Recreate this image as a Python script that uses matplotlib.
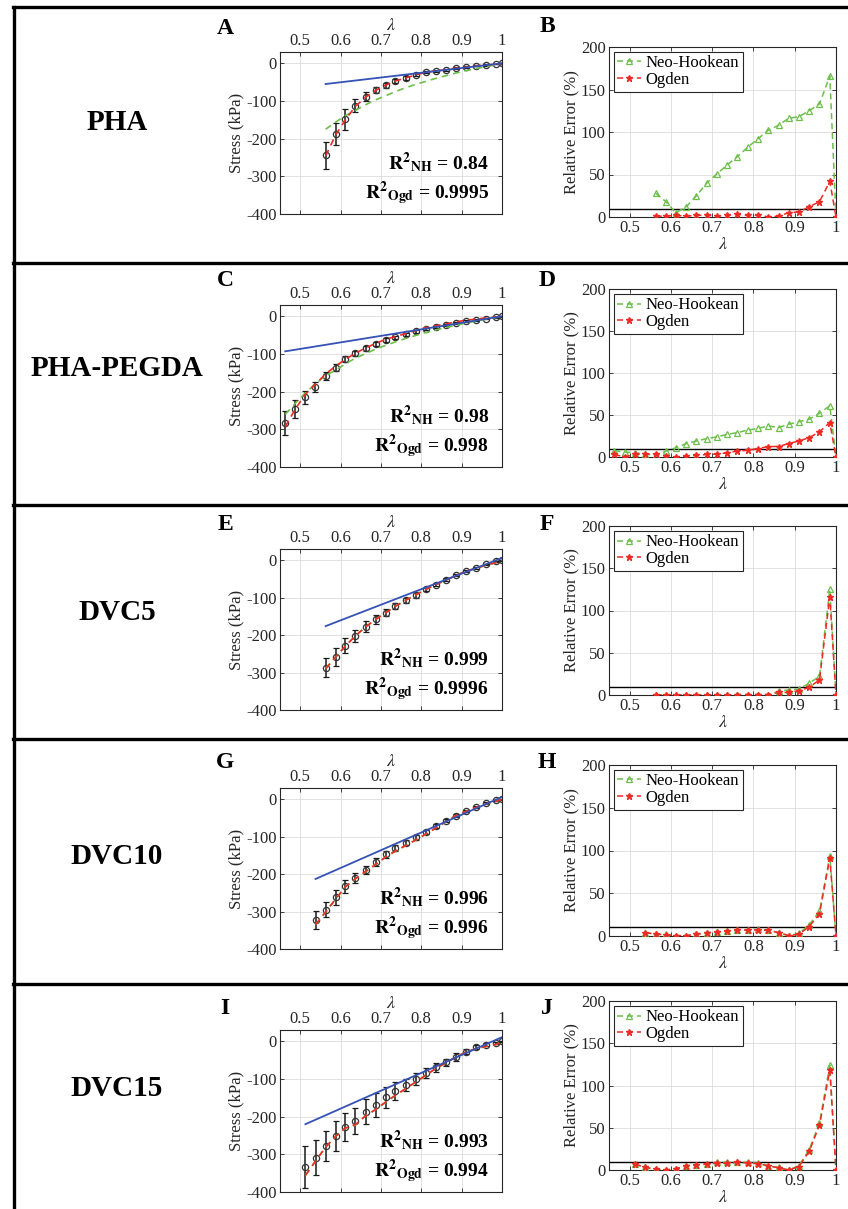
import matplotlib
matplotlib.use("Agg")
import matplotlib.pyplot as plt
from matplotlib.lines import Line2D

plt.rcParams['font.family'] = ['Liberation Serif', 'DejaVu Serif']
plt.rcParams['mathtext.fontset'] = 'stix'
plt.rcParams['axes.unicode_minus'] = False

W, H = 848, 1209

# ---- data ----
row_names = ['PHA', 'PHA-PEGDA', 'DVC5', 'DVC10', 'DVC15']
left_letters = ['A', 'C', 'E', 'G', 'I']
right_letters = ['B', 'D', 'F', 'H', 'J']
r2_nh = ['0.84', '0.98', '0.999', '0.996', '0.993']
r2_ogd = ['0.9995', '0.998', '0.9996', '0.996', '0.994']

lam_pha = [0.563, 0.588, 0.612, 0.637, 0.662, 0.687, 0.712, 0.736, 0.761, 0.786,
           0.811, 0.836, 0.861, 0.885, 0.910, 0.935, 0.960, 0.985, 1.0]
lam_pegda = [0.463, 0.488, 0.512, 0.537, 0.563, 0.588, 0.612, 0.637, 0.662, 0.687,
             0.712, 0.736, 0.761, 0.786, 0.811, 0.836, 0.861, 0.885, 0.910, 0.935,
             0.960, 0.985, 1.0]
lam_dvc5 = [0.563, 0.588, 0.612, 0.637, 0.662, 0.687, 0.712, 0.736, 0.761, 0.786,
            0.811, 0.836, 0.861, 0.885, 0.910, 0.935, 0.960, 0.985, 1.0]
lam_dvc10 = [0.538, 0.563, 0.588, 0.612, 0.637, 0.662, 0.687, 0.712, 0.736, 0.761,
             0.786, 0.811, 0.836, 0.861, 0.885, 0.910, 0.935, 0.960, 0.985, 1.0]
lam_dvc15 = [0.513, 0.538, 0.563, 0.588, 0.612, 0.637, 0.662, 0.687, 0.712, 0.736,
             0.761, 0.786, 0.811, 0.836, 0.861, 0.885, 0.910, 0.935, 0.960, 0.985, 1.0]

# experimental stress (kPa) and std
stress_pha = [-244, -188, -148, -113, -89, -71, -58, -46, -39, -31, -24, -20, -17, -13, -10, -6, -4, -2, 0]
sd_pha = [36, 30, 28, 17, 12, 9, 7, 5, 4, 4, 3, 3, 3, 2, 2, 2, 2, 1, 1]
stress_pegda = [-284, -246, -215, -187, -158, -136, -114, -98, -85, -73, -63, -56, -48, -40,
                -33, -28, -23, -18, -13, -10, -6, -3, 0]
sd_pegda = [32, 25, 18, 13, 10, 9, 8, 7, 6, 5, 5, 4, 4, 4, 3, 3, 3, 3, 2, 2, 2, 1, 1]
stress_dvc5 = [-287, -258, -228, -202, -178, -158, -140, -123, -107, -93, -78, -65, -52, -40,
               -28, -20, -11, -3, 0]
sd_dvc5 = [25, 24, 20, 16, 15, 12, 10, 8, 7, 7, 5, 4, 4, 3, 3, 3, 2, 2, 1]
stress_dvc10 = [-322, -295, -262, -233, -211, -189, -168, -147, -131, -116, -102, -87, -72, -58,
                -44, -32, -20, -10, -3, 0]
sd_dvc10 = [24, 20, 20, 17, 14, 12, 11, 9, 8, 7, 6, 6, 5, 4, 4, 3, 3, 2, 2, 1]
stress_dvc15 = [-333, -309, -278, -252, -227, -211, -187, -169, -149, -132, -116, -100, -84, -69,
                -56, -42, -28, -16, -9, -4, 0]
sd_dvc15 = [56, 46, 40, 40, 38, 35, 33, 31, 27, 24, 17, 15, 14, 12, 10, 10, 7, 5, 4, 3, 2]

# Neo-Hookean fit (green dashed)
nh_pha = [-175, -156, -139, -125, -110, -97, -86, -75, -65, -56, -48, -40, -33, -26, -20, -14, -9, -4, 0]
nh_pegda = [-260, -231, -204, -180, -157, -143, -126, -111, -99, -87, -77, -68, -59, -51, -43,
            -36, -30, -24, -18, -13, -8, -3.5, 0]
nh_dvc5 = [-289, -259, -229, -202, -178, -158, -140, -123, -107, -93, -78, -65, -53, -41, -30,
           -22.5, -13.5, -6.5, 0]
nh_dvc10 = [-335, -302, -267, -234, -212, -194, -175, -154, -139, -124, -109, -94, -77, -60, -44,
            -33, -23, -13, -6, 0]
nh_dvc15 = [-356, -318, -281, -252, -231, -222, -198, -181, -162, -144, -126, -109, -91, -72, -58,
            -42, -29, -20, -14, -9, 0]

# Ogden fit (red dashed)
ogd_pha = [-246, -190, -150, -114, -90, -72, -58, -47, -39, -31, -24, -20, -17, -13, -10.5, -6.7,
           -4.7, -2.8, 0]
ogd_pegda = [-293, -246, -208, -181, -153, -132, -114, -98, -84, -72, -61, -54, -46, -38, -30, -25,
             -20, -15, -10.5, -7.7, -4.2, -1.8, 0]
ogd_dvc5 = [-290, -258, -229, -202, -178, -158, -140, -123, -107, -93, -78, -65, -53.5, -41, -29,
            -21.6, -13, -6.5, 0]
ogd_dvc10 = [-335, -301, -266, -234, -212, -193, -174, -154, -138, -124, -109, -93, -77, -60, -44,
             -33, -22, -12.6, -5.7, 0]
ogd_dvc15 = [-356, -318, -281, -252, -230, -221, -198, -181, -161, -143, -126, -108, -90, -72, -57,
             -42, -29, -19.5, -13.8, -8.7, 0]

# linear (blue solid) end points
lin_lam_pha, lin_pha = [0.563, 1.0], [-55, 0]
lin_lam_pegda, lin_pegda = [0.463, 1.0], [-93, 0]
lin_lam_dvc5, lin_dvc5 = [0.563, 1.0], [-176, 6]
lin_lam_dvc10, lin_dvc10 = [0.538, 1.0], [-213, 6]
lin_lam_dvc15, lin_dvc15 = [0.513, 1.0], [-220, 11]

# relative error (%)
re_nh_pha = [28, 18, 5, 12, 25, 40, 51, 61, 71, 82, 92, 102, 108, 116, 118, 125, 133, 166, 0]
re_ogd_pha = [1, 1, 2, 1, 2, 2, 1, 2, 3, 2, 2, 0, 1, 5, 6, 12, 18, 42, 0]
re_nh_pegda = [7.5, 6, 5, 3.5, 2, 7, 11, 16, 19, 22, 24, 27, 29, 32, 34, 37, 35, 39, 42, 45, 52, 61, 0]
re_ogd_pegda = [3, 0, 3, 3.5, 3, 1, 0, 1, 2, 3, 3.5, 5, 7, 8, 10, 12.5, 12.5, 16, 19, 23, 30, 41, 0]
re_nh_dvc5 = [0, 0, 0, 0, 0, 0, 0, 0, 0.5, 0.5, 0.5, 0.5, 4.5, 6, 7, 14, 22, 125, 0]
re_ogd_dvc5 = [0, 0, 0, 0, 0, 0, 0, 0, 0.5, 0.5, 0.5, 0.5, 3, 3, 5, 9, 18, 116, 0]
re_nh_dvc10 = [4, 2.4, 2, 0.4, 0.4, 2.4, 4, 5, 6, 7, 7, 8, 7, 4, 0.4, 3, 13, 29, 94, 0]
re_ogd_dvc10 = [4, 2, 1.5, 0.5, 0.5, 2, 3.5, 4.5, 5.5, 6.5, 7, 7, 6.5, 4, 0.5, 2, 11, 26, 91, 0]
re_nh_dvc15 = [7, 3, 1.2, 0, 1.6, 5, 6, 7, 9, 9, 9, 9, 8, 5, 3, 0, 5, 24, 56, 124, 0]
re_ogd_dvc15 = [7, 3, 1, 0, 1.5, 5, 6, 7, 8, 8, 9, 8.5, 7.5, 5, 2.5, 0, 4, 22, 53, 118, 0]

rows = [
    (lam_pha, stress_pha, sd_pha, nh_pha, ogd_pha, lin_lam_pha, lin_pha, re_nh_pha, re_ogd_pha),
    (lam_pegda, stress_pegda, sd_pegda, nh_pegda, ogd_pegda, lin_lam_pegda, lin_pegda, re_nh_pegda, re_ogd_pegda),
    (lam_dvc5, stress_dvc5, sd_dvc5, nh_dvc5, ogd_dvc5, lin_lam_dvc5, lin_dvc5, re_nh_dvc5, re_ogd_dvc5),
    (lam_dvc10, stress_dvc10, sd_dvc10, nh_dvc10, ogd_dvc10, lin_lam_dvc10, lin_dvc10, re_nh_dvc10, re_ogd_dvc10),
    (lam_dvc15, stress_dvc15, sd_dvc15, nh_dvc15, ogd_dvc15, lin_lam_dvc15, lin_dvc15, re_nh_dvc15, re_ogd_dvc15),
]

# ---- layout (pixels: left, top, right, bottom) ----
stress_boxes = [(280, 52, 502, 214), (280, 305, 502, 467), (280, 549, 502, 710),
                (280, 788, 502, 949), (280, 1030, 502, 1192)]
err_boxes = [(609, 47, 836, 217), (609, 289, 836, 457), (609, 526, 836, 695),
             (609, 765, 836, 936), (609, 1001, 836, 1170)]
row_lines = [7, 263, 505, 739, 984]
name_y = [122, 368, 612, 857, 1089]
left_letter_y = [29, 280, 524, 763, 1009]
right_letter_y = [27, 280, 524, 762, 1008]

GREEN = '#6cc04a'
RED = '#ee2a24'
BLUE = '#3552b5'
AX_COL = '#262626'


def px_rect(l, t, r, b):
    return [l / W, 1 - b / H, (r - l) / W, (b - t) / H]


def style_axes(ax):
    for sp in ax.spines.values():
        sp.set_color(AX_COL)
        sp.set_linewidth(0.8)
    ax.grid(True, color='#dcdcdc', lw=0.6)
    ax.set_axisbelow(True)
    ax.tick_params(direction='in', length=3, width=0.6, colors=AX_COL, labelsize=12,
                   top=True, right=True, bottom=True, left=True, pad=2.5)


fig = plt.figure(figsize=(W / 100, H / 100), dpi=100)

xt = [0.5, 0.6, 0.7, 0.8, 0.9, 1.0]
xtl = ['0.5', '0.6', '0.7', '0.8', '0.9', '1']

for i, (lam, st, sd, nh, ogd, llam, lin, re_nh, re_ogd) in enumerate(rows):
    # stress panel
    ax = fig.add_axes(px_rect(*stress_boxes[i]))
    ax.errorbar(lam, st, yerr=sd, fmt='o', color='black', ecolor='#1a1a1a', elinewidth=1.1,
                capsize=2, capthick=1.0, ms=4.5, mfc='none', mec='#333333', mew=0.9, zorder=2)
    ax.plot(lam, nh, '--', color=GREEN, lw=1.2, dashes=(4, 3), zorder=3)
    ax.plot(lam, ogd, '--', color=RED, lw=1.2, dashes=(4, 3), zorder=4)
    ax.plot(llam, lin, '-', color=BLUE, lw=1.3, zorder=5)
    ax.set_xlim(0.45, 1.0)
    ax.set_ylim(-400, 30)
    ax.set_xticks(xt)
    ax.set_xticklabels(xtl)
    ax.set_yticks([-400, -300, -200, -100, 0])
    style_axes(ax)
    ax.tick_params(axis='x', labeltop=True, labelbottom=False)
    ax.xaxis.set_label_position('top')
    ax.set_xlabel(r'$\lambda$', fontsize=13, labelpad=2, color=AX_COL)
    ax.set_ylabel('Stress (kPa)', fontsize=12, labelpad=1, color=AX_COL)
    ax.text(0.94, 0.32, r'$\mathbf{R^{2}{}_{NH}}$ = ' + r2_nh[i], transform=ax.transAxes,
            ha='right', va='center', fontsize=14, fontweight='bold', zorder=6)
    ax.text(0.94, 0.13, r'$\mathbf{R^{2}{}_{Ogd}}$ = ' + r2_ogd[i], transform=ax.transAxes,
            ha='right', va='center', fontsize=14, fontweight='bold', zorder=6)

    # relative error panel
    ax2 = fig.add_axes(px_rect(*err_boxes[i]))
    ax2.axhline(10, color='black', lw=1.0, zorder=2)
    ax2.plot(lam, re_nh, '--', color=GREEN, lw=1.1, dashes=(4, 2.5), marker='^', ms=4,
             mfc='none', mec=GREEN, mew=0.9, label='Neo-Hookean', zorder=3)
    ax2.plot(lam, re_ogd, '--', color=RED, lw=1.1, dashes=(4, 2.5), marker='*', ms=4.5,
             mfc=RED, mec=RED, label='Ogden', zorder=4)
    ax2.set_xlim(0.45, 1.0)
    ax2.set_ylim(0, 200)
    ax2.set_xticks(xt)
    ax2.set_xticklabels(xtl)
    ax2.set_yticks([0, 50, 100, 150, 200])
    style_axes(ax2)
    ax2.set_xlabel(r'$\lambda$', fontsize=13, labelpad=0, color=AX_COL)
    ax2.set_ylabel('Relative Error (%)', fontsize=12, labelpad=1, color=AX_COL)
    leg = ax2.legend(loc='upper left', fontsize=12, frameon=True, fancybox=False,
                     edgecolor=AX_COL, framealpha=1, handlelength=1.4, handletextpad=0.3,
                     borderpad=0.2, labelspacing=0.05, borderaxespad=0.3, numpoints=1)
    leg.get_frame().set_linewidth(0.8)

    # row and panel labels
    fig.text(117 / W, 1 - name_y[i] / H, row_names[i], ha='center', va='center',
             fontsize=21, fontweight='bold')
    fig.text(225 / W, 1 - left_letter_y[i] / H, left_letters[i], ha='center', va='center',
             fontsize=17, fontweight='bold')
    fig.text(547 / W, 1 - right_letter_y[i] / H, right_letters[i], ha='center', va='center',
             fontsize=17, fontweight='bold')

# row frames
for y in row_lines:
    fig.add_artist(Line2D([13 / W, 1.0], [1 - y / H, 1 - y / H], transform=fig.transFigure,
                          color='black', lw=2.4))
fig.add_artist(Line2D([14 / W, 14 / W], [0, 1 - 7 / H], transform=fig.transFigure,
                      color='black', lw=2.4))

fig.savefig('out.png', dpi=100)
